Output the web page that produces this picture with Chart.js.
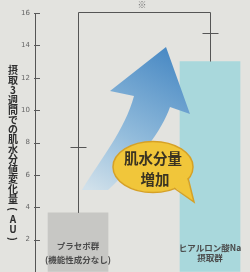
<!DOCTYPE html>
<html><head><meta charset="utf-8">
<script src="https://cdn.jsdelivr.net/npm/chart.js@4/dist/chart.umd.min.js"></script>
<style>
html,body{margin:0;padding:0;background:#e3e3df;}
#wrap{width:250px;height:272px;position:relative;}
</style></head>
<body><div id="wrap"><canvas id="c" width="250" height="272"></canvas></div>
<script>
const categories = ['プラセボ群', 'ヒアルロン酸Na摂取群'];
const categoryLines = [['プラセボ群', '(機能性成分なし)'], ['ヒアルロン酸Na', '摂取群']];
const values = [3.65, 13.0];
const errorUpper = [7.75, 14.77];
const yTicks = [0, 2, 4, 6, 8, 10, 12, 14, 16];
const yTitle = '摂取3週間での肌水分値変化量(AU)';
const calloutLines = ['肌水分量', '増加'];
const sigMark = '※';
const sigLevel = 16.06;

const JP = '"Noto Sans CJK JP", "Noto Sans", sans-serif';

const deco = {
  id: 'deco',
  afterDatasetsDraw(chart) {
    const ctx = chart.ctx, xs = chart.scales.x, ys = chart.scales.y;
    const ca = chart.chartArea;
    ctx.save();
    // y ticks inside
    ctx.strokeStyle = '#5a5a5a'; ctx.lineWidth = 1;
    yTicks.forEach(v => {
      if (v === 0) return;
      const y = Math.round(ys.getPixelForValue(v)) + 0.5;
      ctx.beginPath(); ctx.moveTo(ca.left - 1, y); ctx.lineTo(ca.left + 5, y); ctx.stroke();
    });
    // error bars
    ctx.strokeStyle = '#555';
    const cx = [], capY = [];
    values.forEach((v, i) => {
      const x = Math.round(xs.getPixelForValue(i)) + 0.5;
      const yt = ys.getPixelForValue(v);
      const ye = Math.round(ys.getPixelForValue(errorUpper[i])) + 0.5;
      cx.push(x); capY.push(ye);
      ctx.beginPath(); ctx.moveTo(x, yt); ctx.lineTo(x, ye); ctx.stroke();
      ctx.beginPath(); ctx.moveTo(x - 8, ye); ctx.lineTo(x + 8, ye); ctx.stroke();
    });
    // significance bracket
    const by = Math.round(ys.getPixelForValue(sigLevel)) + 0.5;
    ctx.beginPath();
    ctx.moveTo(cx[0], capY[0]); ctx.lineTo(cx[0], by); ctx.lineTo(cx[1], by); ctx.lineTo(cx[1], capY[1]);
    ctx.stroke();
    ctx.fillStyle = '#777'; ctx.font = '9px ' + JP; ctx.textAlign = 'center'; ctx.textBaseline = 'middle';
    ctx.fillText(sigMark, 142, by - 8);

    // arrow
    const g = ctx.createLinearGradient(88, 188, 168, 50);
    g.addColorStop(0, '#d0e0ea');
    g.addColorStop(0.4, '#94bddc');
    g.addColorStop(1, '#4a8ac4');
    ctx.fillStyle = g;
    ctx.beginPath();
    ctx.moveTo(166, 47);
    ctx.lineTo(190, 114);
    ctx.lineTo(170, 107);
    ctx.bezierCurveTo(162, 130, 140, 160, 108, 190);
    ctx.lineTo(82, 190);
    ctx.bezierCurveTo(100, 160, 125, 130, 134, 96);
    ctx.lineTo(110, 91);
    ctx.closePath();
    ctx.fill();

    // callout bubble
    ctx.fillStyle = '#f1c63a'; ctx.strokeStyle = '#d6a126'; ctx.lineWidth = 1.5;
    ctx.beginPath();
    ctx.ellipse(153, 167, 40, 25.5, 0, 0, Math.PI * 2);
    ctx.fill(); ctx.stroke();
    ctx.beginPath(); ctx.moveTo(174, 187); ctx.lineTo(194, 202); ctx.lineTo(187, 177); ctx.closePath();
    ctx.fill();
    ctx.beginPath(); ctx.moveTo(174, 188); ctx.lineTo(194, 202); ctx.lineTo(188, 178); ctx.stroke();
    ctx.beginPath(); ctx.moveTo(172, 185); ctx.lineTo(188, 186); ctx.lineTo(186, 175); ctx.closePath(); ctx.fill();
    ctx.fillStyle = '#3a3322'; ctx.font = 'bold 14.5px ' + JP;
    ctx.fillText(calloutLines[0], 153, 158);
    ctx.fillText(calloutLines[1], 155, 179);

    // category labels inside bars
    ctx.fillStyle = '#4a4a4a'; ctx.font = 'bold 8.5px ' + JP;
    categoryLines.forEach((lines, i) => {
      const x = xs.getPixelForValue(i);
      ctx.fillText(lines[0], x, i === 0 ? 246 : 248);
      ctx.fillText(lines[1], x, i === 0 ? 260 : 258);
    });

    // vertical y title
    ctx.fillStyle = '#2e2e2e'; ctx.font = 'bold 10px ' + JP;
    const chars = Array.from(yTitle);
    const y0 = 70, step = (239 - 70) / (chars.length - 1);
    chars.forEach((ch, i) => {
      const y = y0 + i * step;
      if (ch === '(' || ch === ')') {
        ctx.save(); ctx.translate(13, y); ctx.rotate(Math.PI / 2); ctx.fillText(ch, 0, 0); ctx.restore();
      } else {
        ctx.fillText(ch, 13, y);
      }
    });
    ctx.restore();
  }
};

new Chart(document.getElementById('c'), {
  type: 'bar',
  data: {
    datasets: [{
      data: values.map((v, i) => ({x: i, y: v})),
      backgroundColor: ['#c7c7c4', '#a9d8dc'],
      barThickness: 60,
      borderWidth: 0
    }]
  },
  options: {
    responsive: false,
    animation: false,
    layout: {padding: {top: 13, right: 0, bottom: 0, left: 0}, autoPadding: false},
    plugins: {legend: {display: false}, tooltip: {enabled: false}},
    scales: {
      x: {type: 'linear', display: false, offset: false, grid: {offset: false}, min: -0.326, max: 1.303},
      y: {
        min: 0, max: 16,
        afterFit(s) { s.width = 35; s.paddingTop = 0; s.paddingBottom = 0; },
        ticks: {
          stepSize: 2, padding: 5, color: '#666',
          font: {size: 7, family: 'DejaVu Sans'},
          callback: v => (v === 0 ? '' : String(v))
        },
        grid: {display: true, drawOnChartArea: false, drawTicks: false},
        border: {display: true, color: '#555', width: 1}
      }
    }
  },
  plugins: [deco]
});
</script></body></html>
